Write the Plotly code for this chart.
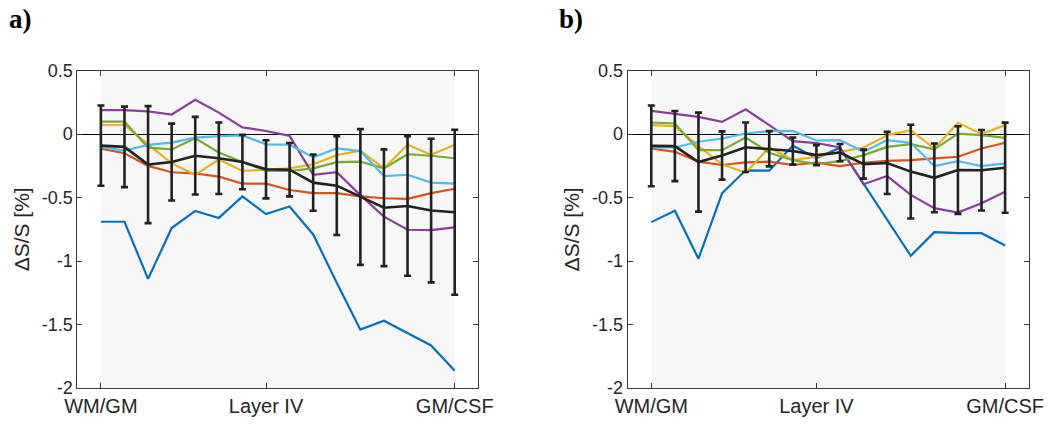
import plotly.graph_objects as go

# cortical depth bins, WM/GM boundary (0) to GM/CSF boundary (15)
depth = list(range(16))
depth_tickvals = [0, 7, 15]
depth_ticktext = ["WM/GM", "Layer IV", "GM/CSF"]

y_tickvals = [0.5, 0, -0.5, -1, -1.5, -2]
y_ticktext = ["0.5", "0", "-0.5", "-1", "-1.5", "-2"]

subject_colors = ["#0072BD", "#D95319", "#EDB120", "#8A3F9C", "#77AC30", "#4DBEEE"]

# panel a: individual subjects
a_s1 = [-0.69, -0.69, -1.14, -0.74, -0.605, -0.66, -0.49, -0.63, -0.57, -0.79, -1.17, -1.54, -1.47, -1.57, -1.665, -1.865]
a_s2 = [-0.115, -0.15, -0.25, -0.30, -0.31, -0.335, -0.39, -0.39, -0.44, -0.465, -0.465, -0.49, -0.505, -0.51, -0.465, -0.43]
a_s3 = [0.072, 0.072, -0.08, -0.23, -0.32, -0.20, -0.29, -0.28, -0.27, -0.237, -0.165, -0.131, -0.27, -0.084, -0.162, -0.084]
a_s4 = [0.19, 0.19, 0.18, 0.155, 0.27, 0.17, 0.053, 0.025, -0.013, -0.32, -0.30, -0.48, -0.65, -0.753, -0.756, -0.735]
a_s5 = [0.098, 0.098, -0.106, -0.12, -0.033, -0.145, -0.22, -0.29, -0.29, -0.27, -0.22, -0.216, -0.27, -0.158, -0.17, -0.19]
a_s6 = [-0.10, -0.13, -0.085, -0.067, -0.028, -0.015, -0.01, -0.08, -0.083, -0.183, -0.112, -0.133, -0.33, -0.32, -0.382, -0.39]
# panel a: group mean and spread
a_mean = [-0.09, -0.10, -0.24, -0.22, -0.17, -0.19, -0.22, -0.277, -0.28, -0.382, -0.406, -0.495, -0.58, -0.566, -0.602, -0.615]
a_err = [0.316, 0.317, 0.461, 0.303, 0.306, 0.282, 0.214, 0.229, 0.21, 0.222, 0.389, 0.535, 0.46, 0.55, 0.566, 0.65]

# panel b: individual subjects
b_s1 = [-0.693, -0.604, -0.981, -0.466, -0.285, -0.288, -0.09, -0.19, -0.107, -0.39, -0.67, -0.958, -0.772, -0.78, -0.78, -0.877]
b_s2 = [-0.113, -0.139, -0.217, -0.243, -0.222, -0.217, -0.243, -0.225, -0.251, -0.225, -0.21, -0.204, -0.191, -0.178, -0.113, -0.068]
b_s3 = [0.071, 0.063, -0.094, -0.238, -0.304, -0.105, -0.204, -0.178, -0.139, -0.105, -0.008, 0.031, -0.113, 0.089, 0.0, 0.071]
b_s4 = [0.183, 0.162, 0.136, 0.097, 0.196, 0.071, -0.055, -0.07, -0.105, -0.395, -0.33, -0.479, -0.583, -0.618, -0.544, -0.453]
b_s5 = [0.092, 0.084, -0.126, -0.126, -0.026, -0.147, -0.205, -0.235, -0.212, -0.165, -0.10, -0.078, -0.12, 0.005, -0.008, -0.029]
b_s6 = [-0.105, -0.105, -0.06, -0.034, 0.005, 0.024, 0.026, -0.05, -0.047, -0.139, -0.047, -0.068, -0.251, -0.212, -0.251, -0.23]
# panel b: group mean and spread
b_mean = [-0.092, -0.094, -0.22, -0.168, -0.103, -0.115, -0.133, -0.165, -0.145, -0.236, -0.227, -0.295, -0.344, -0.283, -0.284, -0.264]
b_err = [0.318, 0.276, 0.39, 0.19, 0.195, 0.139, 0.107, 0.079, 0.068, 0.114, 0.245, 0.369, 0.271, 0.345, 0.317, 0.355]

panels = [
    ("x", "y", [a_s1, a_s2, a_s3, a_s4, a_s5, a_s6], a_mean, a_err),
    ("x2", "y2", [b_s1, b_s2, b_s3, b_s4, b_s5, b_s6], b_mean, b_err),
]

FONT = "Liberation Sans, Arial, Helvetica, sans-serif"
AXIS_COLOR = "#3a3a3a"
MEAN_COLOR = "#222222"

fig = go.Figure()
for xa, ya, subjects, mean, err in panels:
    for vals, col in zip(subjects, subject_colors):
        fig.add_trace(go.Scatter(
            x=depth, y=vals, xaxis=xa, yaxis=ya, mode="lines",
            line=dict(color=col, width=2.2), showlegend=False, hoverinfo="skip",
        ))
    fig.add_trace(go.Scatter(
        x=depth, y=mean, xaxis=xa, yaxis=ya, mode="lines",
        line=dict(color=MEAN_COLOR, width=2.6),
        error_y=dict(type="data", array=err, visible=True,
                     color=MEAN_COLOR, thickness=2.6, width=3.5),
        showlegend=False,
    ))
    # light backdrop over the sampled depth range
    fig.add_shape(type="rect", xref=xa, yref=f"{ya} domain",
                  x0=depth[0], x1=depth[-1], y0=0, y1=1,
                  fillcolor="#f7f7f7", line=dict(width=0), layer="below")

x_common = dict(
    range=[-1, 16], tickmode="array", tickvals=depth_tickvals, ticktext=depth_ticktext,
    ticks="inside", ticklen=5, tickwidth=1, tickcolor=AXIS_COLOR,
    showline=True, linecolor=AXIS_COLOR, linewidth=1, mirror="ticks",
    showgrid=False, zeroline=False, automargin=False,
    tickfont=dict(family=FONT, size=20, color="#262626"),
)
y_common = dict(
    range=[-2, 0.5], tickmode="array", tickvals=y_tickvals, ticktext=y_ticktext,
    ticks="inside", ticklen=5, tickwidth=1, tickcolor=AXIS_COLOR,
    showline=True, linecolor=AXIS_COLOR, linewidth=1, mirror="ticks",
    showgrid=False, zeroline=True, zerolinecolor="#000000", zerolinewidth=1,
    automargin=False,
    tickfont=dict(family=FONT, size=18, color="#262626"),
    title=dict(text="ΔS/S [%]", font=dict(family=FONT, size=21, color="#262626"), standoff=6),
)

y_dom = [1 - 388 / 424, 1 - 70.7 / 424]
fig.update_layout(
    width=1054, height=424,
    margin=dict(l=0, r=0, t=0, b=0),
    paper_bgcolor="white", plot_bgcolor="white",
    xaxis=dict(domain=[77.3 / 1054, 478.3 / 1054], anchor="y", **x_common),
    yaxis=dict(domain=y_dom, anchor="x", **y_common),
    xaxis2=dict(domain=[627.7 / 1054, 1028.7 / 1054], anchor="y2", **x_common),
    yaxis2=dict(domain=y_dom, anchor="x2", **y_common),
    annotations=[
        dict(text="<b>a)</b>", x=7 / 1054, y=1 - 19 / 424, xref="paper", yref="paper",
             xanchor="left", yanchor="middle", showarrow=False,
             font=dict(family="Liberation Serif, Times New Roman, serif", size=27, color="black")),
        dict(text="<b>b)</b>", x=557 / 1054, y=1 - 19 / 424, xref="paper", yref="paper",
             xanchor="left", yanchor="middle", showarrow=False,
             font=dict(family="Liberation Serif, Times New Roman, serif", size=27, color="black")),
    ],
)

fig.write_html("out.html")
